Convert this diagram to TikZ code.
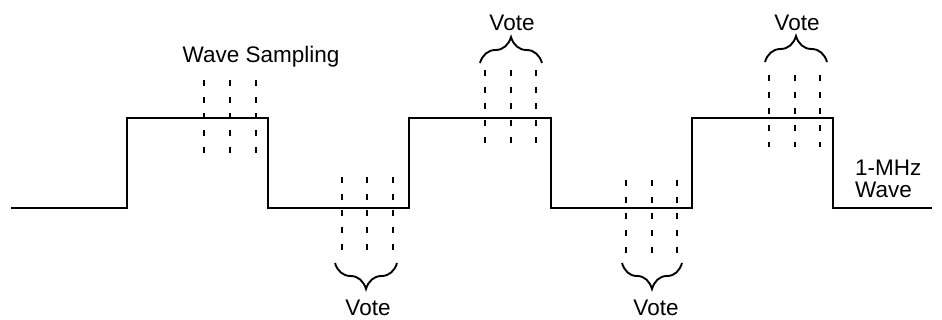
\documentclass[tikz,border=0pt]{standalone}
\usepackage{fontspec}
\setmainfont{Liberation Sans}
\usetikzlibrary{decorations.pathreplacing}
\tikzset{
  wave/.style={line width=2.5pt, line join=miter},
  sample/.style={line width=2.2pt, dash pattern=on 6pt off 10.7pt},
  votebrace/.style={line width=1.9pt, decorate, decoration={brace, amplitude=26pt}},
  lbl/.style={font=\fontsize{22.5}{22}\selectfont, inner sep=0pt, anchor=base},
}
\begin{document}
\begin{tikzpicture}[x=1pt,y=-1pt]
\useasboundingbox (0,0) rectangle (942,320);
% square wave
\draw[wave] (11,208) -- (127,208) -- (127,118) -- (268,118) -- (268,208) -- (409,208) -- (409,118) -- (551,118) -- (551,208) -- (692,208) -- (692,118) -- (833,118) -- (833,208) -- (932,208);
% sampling lines
\foreach \x in {204,230,256} \draw[sample] (\x,80) -- (\x,153);
\foreach \x in {342,367,393} \draw[sample] (\x,177) -- (\x,252);
\foreach \x in {485,511,536} \draw[sample] (\x,70) -- (\x,147);
\foreach \x in {626,652,677} \draw[sample] (\x,180) -- (\x,255);
\foreach \x in {769,795,820} \draw[sample] (\x,75) -- (\x,147);
% braces
\draw[votebrace] (480,63) -- (542,63);
\draw[votebrace] (765,62) -- (827,62);
\draw[votebrace] (397,263) -- (335,263);
\draw[votebrace] (682,263) -- (622,263);
% labels
\node[lbl] (ws) at (261,63) {Wave Sampling};
\node[lbl] (v1) at (368,316) {Vote};
\node[lbl] (v2) at (512,31) {Vote};
\node[lbl] (v3) at (656,316) {Vote};
\node[lbl] (v4) at (797,31) {Vote};
\node[lbl, anchor=base west, align=left] (mhz) at (855,198) {1-MHz\\Wave};
\end{tikzpicture}
\end{document}
